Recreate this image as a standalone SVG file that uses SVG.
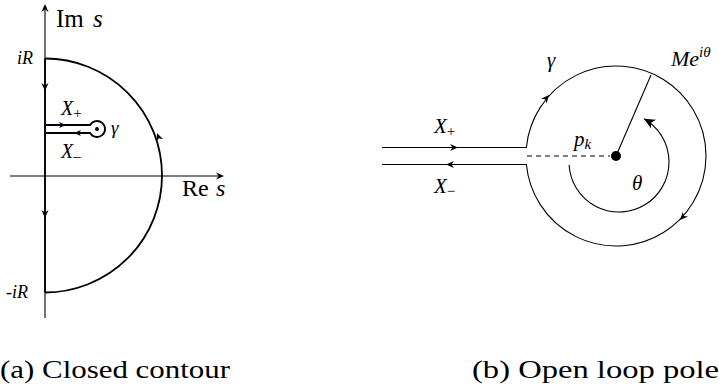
<svg xmlns="http://www.w3.org/2000/svg" width="719" height="389" viewBox="0 0 719 389">
<style>
.thick{fill:none;stroke:#000;stroke-width:1.8}
.thin{fill:none;stroke:#000;stroke-width:1.1}
.m{font-style:italic}
.up{font-style:normal}
</style>
<defs>
<path id="ah" d="M0,0 L-8,-3.6 L-5.5,0 L-8,3.6 Z" fill="#000"/>
<path id="ahs" d="M0,0 L-7,-3 L-5,0 L-7,3 Z" fill="#000"/>
<marker id="big" viewBox="-12 -6 13 12" refX="0" refY="0" markerWidth="13" markerHeight="12" markerUnits="userSpaceOnUse" orient="auto">
<path d="M0,0 L-11,-5 L-8,0 L-11,5 Z" fill="#000"/>
</marker>
</defs>
<rect width="719" height="389" fill="#fff"/>
<g id="panel-a">
<g id="axes">
<line class="thin" x1="45" y1="318" x2="45" y2="10"/>
<use href="#ah" transform="translate(45,4) rotate(-90)"/>
<line class="thin" x1="10" y1="176" x2="218" y2="176"/>
<use href="#ah" transform="translate(224,176)"/>
</g>
<g id="contour-a">
<line class="thick" x1="45" y1="58.5" x2="45" y2="292.5"/>
<path class="thick" d="M45,58.5 A117,117 0 0 1 45,292.5"/>
<path class="thick" d="M45,125 L90.1,125 A8,8 0 1 1 90.1,133 L45,133"/>
<circle cx="97" cy="129" r="2" fill="#000"/>
<use href="#ah" transform="translate(45,91) rotate(90)"/>
<use href="#ah" transform="translate(45,218) rotate(90)"/>
<use href="#ah" transform="translate(157,133) rotate(-110)"/>
<use href="#ahs" transform="translate(66,125)"/>
<use href="#ahs" transform="translate(74,133) rotate(180)"/>
</g>
<g id="labels-a" font-family="Liberation Serif, serif">
<text x="56" y="27" font-size="25">Im<tspan class="m" x="93">s</tspan></text>
<text x="182" y="196" font-size="24">Re<tspan class="m" x="216">s</tspan></text>
<text class="m" x="17" y="64" font-size="18">iR</text>
<text class="m" x="6" y="298" font-size="18"><tspan class="up">-</tspan>iR</text>
<text class="m" x="61" y="115" font-size="20">X<tspan class="up" font-size="15" dy="3">+</tspan></text>
<text class="m" x="61" y="158" font-size="20">X<tspan class="up" font-size="15" dy="3">–</tspan></text>
<text class="m" x="111" y="134" font-size="19">γ</text>
</g>
<text x="0" y="378" font-size="25" font-family="Liberation Serif, serif" textLength="230" lengthAdjust="spacingAndGlyphs">(a) Closed contour</text>
</g>
<g id="panel-b">
<g id="contour-b">
<path class="thin" d="M382,147.5 L526.4,147.5 A90,90 0 1 1 526.4,164.5 L382,164.5"/>
<line class="thin" x1="527" y1="156" x2="610" y2="156" stroke-dasharray="5,4"/>
<line class="thin" x1="616" y1="156" x2="651" y2="75"/>
<circle cx="616" cy="156" r="5" fill="#000"/>
<path class="thin" d="M569.1,165 A50,50 0 1 0 644,118.7" marker-end="url(#big)"/>
<use href="#ah" transform="translate(458,147.5)"/>
<use href="#ah" transform="translate(446,164.5) rotate(180)"/>
<use href="#ah" transform="translate(549,95) rotate(-49.5)"/>
<use href="#ah" transform="translate(680,220) rotate(133)"/>
</g>
<g id="labels-b" font-family="Liberation Serif, serif">
<text class="m" x="434" y="133" font-size="21">X<tspan class="up" font-size="15" dy="3">+</tspan></text>
<text class="m" x="434" y="193" font-size="21">X<tspan class="up" font-size="15" dy="3">−</tspan></text>
<text class="m" x="547" y="67" font-size="21">γ</text>
<text class="m" x="671" y="66" font-size="22">Me<tspan font-size="15" dy="-9">iθ</tspan></text>
<text class="m" x="574" y="146" font-size="21">p<tspan font-size="15" dy="3">k</tspan></text>
<text class="m" x="632" y="190" font-size="21">θ</text>
</g>
<text x="472" y="378" font-size="25" font-family="Liberation Serif, serif" textLength="247" lengthAdjust="spacingAndGlyphs">(b) Open loop pole</text>
</g>
</svg>
